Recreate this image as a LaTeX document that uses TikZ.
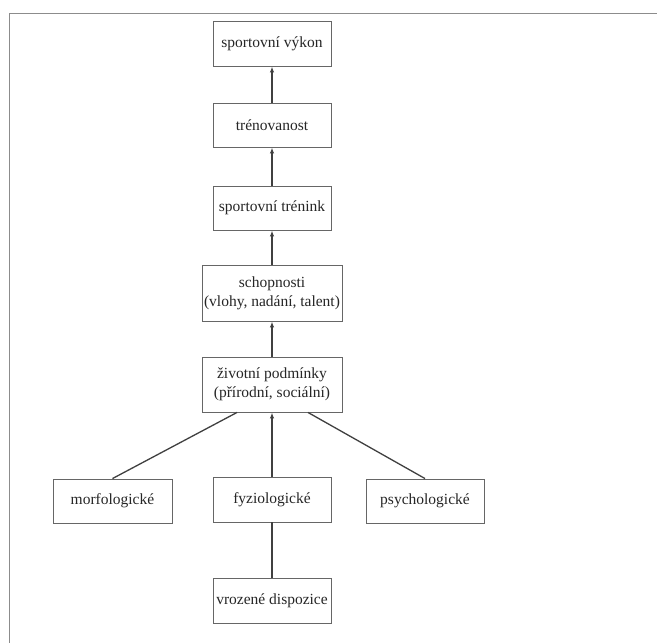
\documentclass[tikz,border=0pt]{standalone}
\usepackage{fontspec}
\setmainfont{Liberation Serif}
\usetikzlibrary{arrows.meta}
\begin{document}
\begin{tikzpicture}[x=1pt,y=-1pt,
  box/.style={draw=black!60, line width=0.9pt, fill=white, inner sep=0pt,
    font=\fontsize{15.5}{19}\selectfont, align=center, text=black!85},
  conn/.style={draw=black!75, line width=1.3pt},
  arr/.style={conn, -{Latex[length=6pt,width=4.5pt]}}]
\useasboundingbox (0,0) rectangle (657,643);
\fill[white] (0,0) rectangle (657,643);
\draw[black!45, line width=1.5pt] (9.5,643) -- (9.5,13.5) -- (657,13.5);
\node[box, minimum width=118pt, minimum height=45pt] (vykon) at (272,43.5) {sportovní výkon};
\node[box, minimum width=118pt, minimum height=44pt] (tren) at (272,125) {trénovanost};
\node[box, minimum width=118pt, minimum height=44pt] (trenink) at (272,208) {sportovní trénink};
\node[box, minimum width=140pt, minimum height=56pt] (schop) at (272,293) {schopnosti\\(vlohy, nadání, talent)};
\node[box, minimum width=140pt, minimum height=55pt] (zivot) at (272,384.5) {životní podmínky\\(přírodní, sociální)};
\node[box, minimum width=119pt, minimum height=44pt] (morf) at (112.5,501) {morfologické};
\node[box, minimum width=118pt, minimum height=45pt] (fyz) at (272,499.5) {fyziologické};
\node[box, minimum width=118pt, minimum height=44pt] (psych) at (425,501) {psychologické};
\node[box, minimum width=118pt, minimum height=45pt] (vroz) at (272,600.5) {vrozené dispozice};
\draw[arr] (tren) -- (vykon);
\draw[arr] (trenink) -- (tren);
\draw[arr] (schop) -- (trenink);
\draw[arr] (zivot) -- (schop);
\draw[arr] (fyz) -- (zivot);
\draw[conn] (vroz) -- (fyz);
\draw[conn] (morf.north) -- ([xshift=-35pt]zivot.south);
\draw[conn] (psych.north) -- ([xshift=36pt]zivot.south);
\end{tikzpicture}
\end{document}
